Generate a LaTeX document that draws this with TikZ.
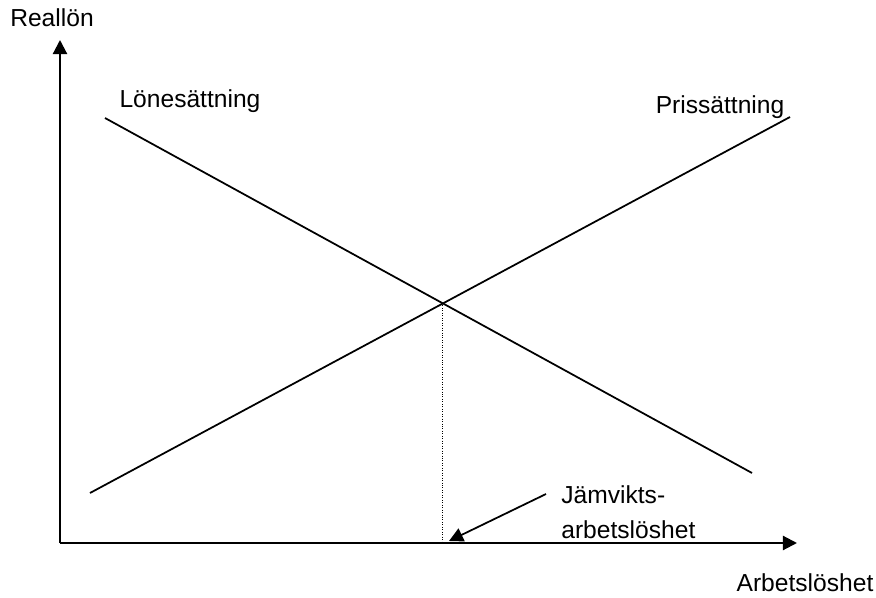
\documentclass[tikz,border=0pt]{standalone}
\usepackage{fontspec}
\setmainfont{Liberation Sans}
\usetikzlibrary{arrows.meta, positioning}

\begin{document}
\begin{tikzpicture}[
    x=0.02cm, y=-0.02cm,
    >={Triangle[length=8pt, width=8pt]},
    axis/.style={->, line width=1.2pt},
    curve/.style={line width=1pt},
    label/.style={font=\fontsize{14}{18}\selectfont, inner sep=0pt}
]
\useasboundingbox (0,0) rectangle (876,598);

\coordinate (O) at (60,543);
\coordinate (ytop) at (60,40);
\coordinate (xend) at (797,543);
\coordinate (L1) at (105,118);
\coordinate (L2) at (752,473);
\coordinate (P1) at (90,493);
\coordinate (P2) at (790,117);
\coordinate (E) at (442,303);
\coordinate (Ex) at (442,543);
\coordinate (jtail) at (546,494);
\coordinate (jtip) at (449,541);

\node[label] (reallon) at (52,18) {Reallön};
\node[label] (arbl) at (805,583) {Arbetslöshet};
\node[label] (lone) at (190,101) {Lönesättning};
\node[label] (pris) at (720,107) {Prissättning};
\node[label, anchor=north west, align=left] (jamv) at (561,485) {Jämvikts-\\[2pt]arbetslöshet};

\draw[axis] (O) -- (ytop);
\draw[axis] (O) -- (xend);
\draw[curve] (L1) -- (L2);
\draw[curve] (P1) -- (P2);
\draw[densely dotted] (E) -- (Ex);
\draw[->, line width=1pt] (jtail) -- (jtip);

\end{tikzpicture}
\end{document}
